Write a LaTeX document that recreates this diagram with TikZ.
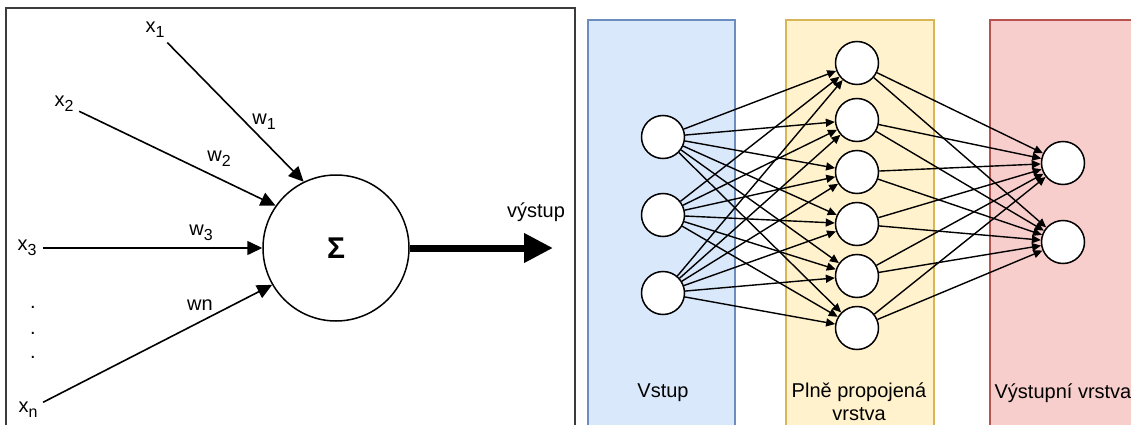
\documentclass[tikz,border=0pt]{standalone}
\usepackage{fontspec}
\setmainfont{Liberation Sans}
\usetikzlibrary{arrows.meta}
\definecolor{inlayer}{HTML}{DAE8FC}
\definecolor{inedge}{HTML}{6C8EBF}
\definecolor{hidlayer}{HTML}{FFF2CC}
\definecolor{hidedge}{HTML}{D6B656}
\definecolor{outlayer}{HTML}{F8CECC}
\definecolor{outedge}{HTML}{B85450}
\definecolor{panel}{RGB}{60,60,60}
\newcommand{\lowsub}[1]{\raisebox{-5pt}{\fontsize{16}{18}\selectfont #1}}

\begin{document}
\begin{tikzpicture}[
  x=1pt, y=-1pt,
  every node/.style={font=\fontsize{20}{23}\selectfont, inner sep=1pt},
  sumnode/.style={circle, draw, line width=1.5pt, fill=white,
                  minimum size=146pt, inner sep=0pt,
                  font=\fontsize{30}{36}\selectfont\bfseries},
  neuron/.style={circle, draw, line width=1.5pt, fill=white,
                 minimum size=43pt, inner sep=0pt},
  weight/.style={-{Triangle[length=15pt, width=14pt]}, line width=1.6pt,
                 shorten <=5pt},
  conn/.style={-{Triangle[length=9pt, width=8pt]}, line width=1.4pt},
  layer/.style={line width=1.5pt}
]

\useasboundingbox (0,0) rectangle (1131,425);
\clip (0,0) rectangle (1131,425);

% single neuron panel
\draw[panel, line width=1.3pt] (6,8) rectangle (575,440);

\node[sumnode] (sum) at (336,248) {Σ};

\node (x1) at (155,30) {x\lowsub{1}};
\node (x2) at (64,104) {x\lowsub{2}};
\node (x3) at (27,248) {x\lowsub{3}};
\node (xn) at (28,410) {x\lowsub{n}};
\foreach \y [count=\d] in {307,333,357}
  \node (dot\d) at (33,\y) {.};

\node (w1) at (264,122) {w\lowsub{1}};
\node (w2) at (219,159) {w\lowsub{2}};
\node (w3) at (201,233) {w\lowsub{3}};
\node (wn) at (200,305) {wn};

\draw[weight] (x1) -- (sum.116);
\draw[weight] (x2) -- (sum.145);
\draw[weight] (x3) -- (sum.180);
\draw[weight] (xn) -- (sum.210);

% output
\coordinate (outtip) at (553,248);
\node (vystup) at (536,212) {výstup};
\draw[line width=7pt, -{Triangle[length=29pt, width=28pt]}] (sum) -- (outtip);

% layers
\draw[layer, draw=inedge, fill=inlayer] (588,20) rectangle (735,440);
\draw[layer, draw=hidedge, fill=hidlayer] (786,20) rectangle (934,440);
\draw[layer, draw=outedge, fill=outlayer] (990,20) rectangle (1137,440);

\node (vstuplbl) at (663,393) {Vstup};
\node[align=center] (hidlbl) at (859,402) {Plně propojená\\vrstva};
\node (outlbl) at (1063,393) {Výstupní vrstva};

% neurons
\foreach \y [count=\i] in {137,215,293}
  \node[neuron] (in\i) at (663,\y) {};
\foreach \y [count=\j] in {63,120,172,224,276,328}
  \node[neuron] (h\j) at (857,\y) {};
\foreach \y [count=\k] in {163,242}
  \node[neuron] (out\k) at (1063,\y) {};

% connections
\foreach \i in {1,2,3}
  \foreach \j in {1,...,6}
    \draw[conn] (in\i) -- (h\j);
\foreach \j in {1,...,6}
  \foreach \k in {1,2}
    \draw[conn] (h\j) -- (out\k);

\end{tikzpicture}
\end{document}
